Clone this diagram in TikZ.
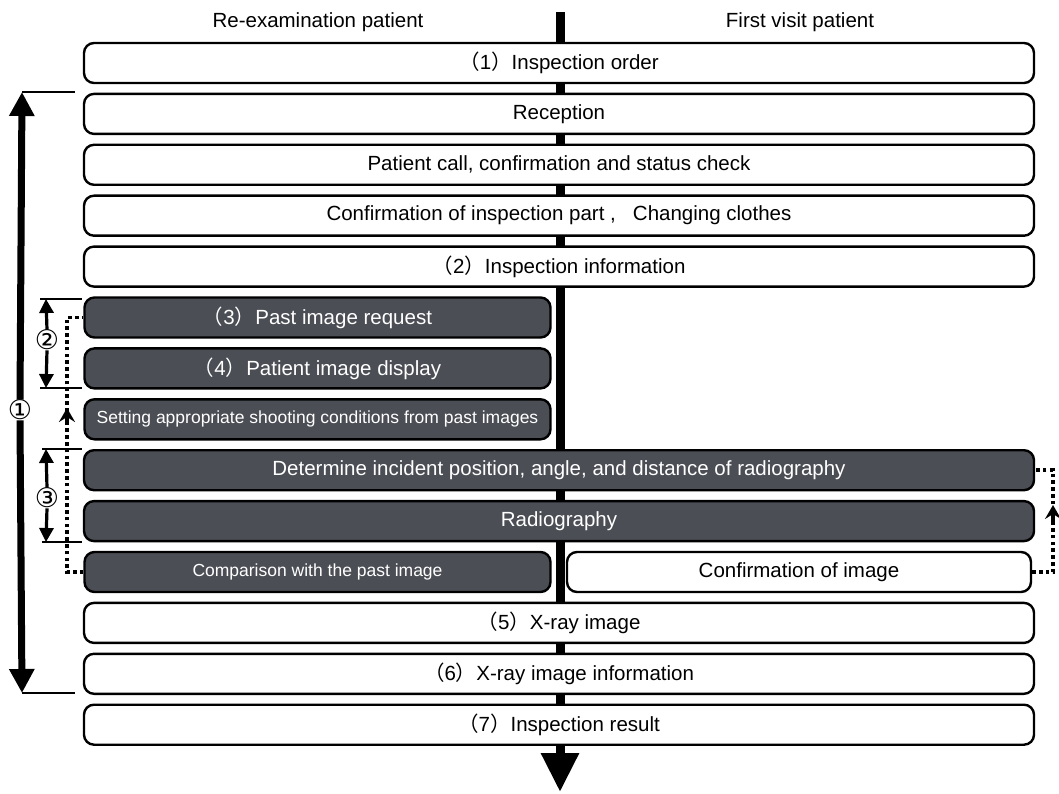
\documentclass[tikz,border=0pt]{standalone}
\usepackage{fontspec}
\setmainfont{Liberation Sans}
\newfontfamily\cjk{Noto Sans CJK JP}
\newfontfamily\symfont{DejaVu Sans}
\usetikzlibrary{arrows.meta}
\definecolor{cDark}{HTML}{4B4E55}
\newcommand{\fwnum}[1]{{\cjk （}#1{\cjk ）}}

\begin{document}
\begin{tikzpicture}[x=1pt, y=-1pt,
    box/.style={draw=black, line width=2.4pt, rounded corners=10pt, minimum height=40pt, inner sep=0pt, font=\fontsize{20.5}{24}\selectfont, fill=white},
    full/.style={box, minimum width=950pt},
    lefthalf/.style={box, minimum width=466pt},
    righthalf/.style={box, minimum width=464pt},
    dark/.style={fill=cDark, text=white},
    small/.style={font=\fontsize{17.5}{21}\selectfont},
    hdr/.style={font=\fontsize{20.5}{24}\selectfont},
    num/.style={font=\symfont\fontsize{27}{30}\selectfont, inner sep=0pt},
    bigarrow/.style={line width=7pt, -{Triangle[width=24pt,length=24pt]}},
    midarrow/.style={line width=3.2pt, -{Triangle[width=14pt,length=14pt]}},
    tick/.style={line width=1.3pt},
    dots/.style={line width=3.6pt, dash pattern=on 3.6pt off 3.2pt},
    uptip/.style={line width=3.6pt, -{Stealth[length=14pt,width=16pt,inset=5pt]}}
]
\useasboundingbox (0,0) rectangle (1059,794);
\def\rowh{50.9}
\def\ytop{63}

% headers and main flow
\node[hdr] (hleft) at (318,22) {Re-examination patient};
\node[hdr] (hright) at (800,22) {First visit patient};
\coordinate (flowtop) at (560,12);
\coordinate (flowend) at (560,792);
\draw[line width=9pt, -{Triangle[width=36pt,length=39pt]}] (flowtop) -- (flowend);

% steps
\node[full] (order) at (559, \ytop) {\fwnum{1}Inspection order};
\node[full] (reception) at (559, \ytop+\rowh) {Reception};
\node[full] (call) at (559, \ytop+2*\rowh) {Patient call, confirmation and status check};
\node[full] (part) at (559, \ytop+3*\rowh) {Confirmation of inspection part ,\ \ \ Changing clothes};
\node[full] (info) at (559, \ytop+4*\rowh) {\fwnum{2}Inspection information};
\node[lefthalf, dark] (request) at (317.5, \ytop+5*\rowh) {\fwnum{3}Past image request};
\node[lefthalf, dark] (display) at (317.5, \ytop+6*\rowh) {\fwnum{4}Patient image display};
\node[lefthalf, dark, small] (setting) at (317.5, \ytop+7*\rowh) {Setting appropriate shooting conditions from past images};
\node[full, dark] (determine) at (559, \ytop+8*\rowh) {Determine incident position, angle, and distance of radiography};
\node[full, dark] (radio) at (559, \ytop+9*\rowh) {Radiography};
\node[lefthalf, dark, small] (compare) at (317.5, \ytop+10*\rowh) {Comparison with the past image};
\node[righthalf] (confirm) at (799, \ytop+10*\rowh) {Confirmation of image};
\node[full] (xray) at (559, \ytop+11*\rowh) {\fwnum{5}X-ray image};
\node[full] (xinfo) at (559, \ytop+12*\rowh) {\fwnum{6}X-ray image information};
\node[full] (result) at (559, \ytop+13*\rowh) {\fwnum{7}Inspection result};

% span 1
\node[num] (span1) at (20,410) {①};
\coordinate (s1top) at (22,92);
\coordinate (s1bot) at (22,693);
\draw[bigarrow] (span1.north) -- (s1top);
\draw[bigarrow] (span1.south) -- (s1bot);
\draw[tick] (s1top) -- (75,92);
\draw[tick] (s1bot) -- (75,693);

% span 2
\node[num] (span2) at (47,340) {②};
\coordinate (s2top) at (46,299);
\coordinate (s2bot) at (46,388);
\draw[midarrow] (span2.north) -- (s2top);
\draw[midarrow] (span2.south) -- (s2bot);
\draw[tick] (40,299) -- (82,299);
\draw[tick] (40,388) -- (82,388);

% span 3
\node[num] (span3) at (47,498) {③};
\coordinate (s3top) at (46,449);
\coordinate (s3bot) at (46,542);
\draw[midarrow] (span3.north) -- (s3top);
\draw[midarrow] (span3.south) -- (s3bot);
\draw[tick] (42,449) -- (82,449);
\draw[tick] (42,542) -- (82,542);

% feedback loops
\coordinate (lbase) at (67,424);
\coordinate (ltip) at (67,408);
\coordinate (rbase) at (1053,521);
\coordinate (rtip) at (1053,505);
\draw[dots] (compare.west) -- (67,\ytop+10*\rowh) -- (67,\ytop+5*\rowh) -- (request.west);
\draw[uptip] (lbase) -- (ltip);
\draw[dots] (confirm.east) -- (1053,\ytop+10*\rowh) -- (1053,\ytop+8*\rowh) -- (determine.east);
\draw[uptip] (rbase) -- (rtip);

\end{tikzpicture}
\end{document}
